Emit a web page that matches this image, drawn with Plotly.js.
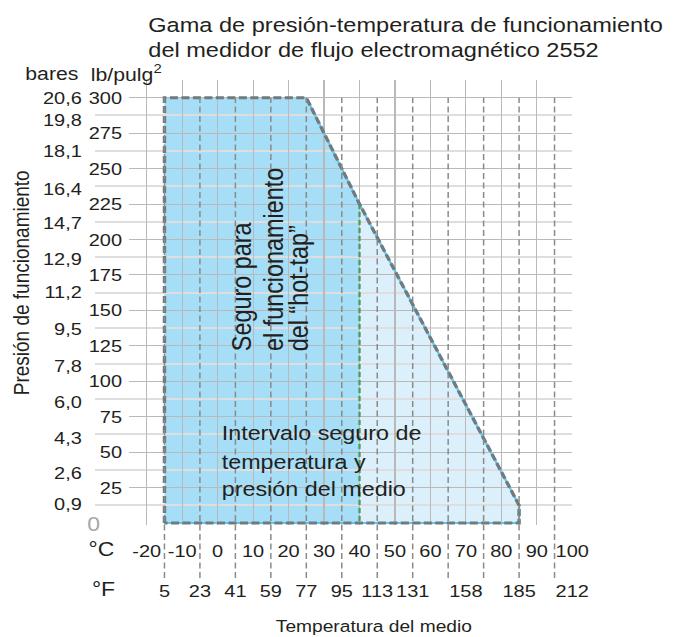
<!DOCTYPE html>
<html><head><meta charset="utf-8">
<script src="https://cdn.plot.ly/plotly-3.0.1.min.js"></script>
<style>
html,body{margin:0;padding:0;background:#fff;overflow:hidden}
#wrap{width:678px;height:637px;overflow:hidden}
#plot{width:590px;height:637px;transform:scaleX(1.149153);transform-origin:0 0}
</style>
</head><body><div id="wrap"><div id="plot"></div></div>
<script>
// ---- data ----
const safeTempC = [-15, -15, 25, 40, 85, 85, -15];
const safePsi   = [0, 300, 300, 225, 12.5, 0, 0];
const hotTapTempC = [-15, -15, 25, 40, 40, -15];
const hotTapPsi   = [0, 300, 300, 225, 0, 0];
const celsiusTicks = [-20, -10, 0, 10, 20, 30, 40, 50, 60, 70, 80, 90, 100];
const celsiusTickText = ['-20', '-10', '0', '10', '20', '30', '40', '50', '60', '70', '80', '90', '100'];
const psiTicks = [25, 50, 75, 100, 125, 150, 175, 200, 225, 250, 275, 300];
const barTickText = ['0,9', '2,6', '4,3', '6,0', '7,8', '9,5', '11,2', '12,9', '14,7', '16,4', '18,1', '19,8', '20,6'];
const barTickPsi = [13.3, 35.4, 60.3, 85.4, 110.5, 136.7, 162.8, 186.2, 211.9, 236.0, 262.5, 284.2, 300];
const barGridPsi = [12.5, 37.5, 62.5, 87.5, 112.5, 137.5, 162.5, 187.5, 212.5, 237.5, 262.5, 287.5];
const fahrenheitTickPosC = [-15, -5, 5, 15, 25, 35, 45, 55, 70, 85, 100];
const fahrenheitTickText = ['5', '23', '41', '59', '77', '95', '113', '131', '158', '185', '212'];
const dashedGuideC = [-15, -5, 5, 15, 25, 35, 45, 55, 65, 75, 85, 95];

// ---- layout geometry ----
const S = 678 / 590;
const W = 590, H = 637, ML = 60, MR = 92, MT = 80, MB = 112;
const plotW = W - ML - MR, plotH = H - MT - MB;
const PXPSI = 443 / 312.5;
const yMin = -2 / PXPSI, yMax = 312.5;
const PX = xr => (xr / S - ML) / plotW;
const PY = yr => (H - MB - yr) / plotH;
const FONT = 'Liberation Sans, Arial, Helvetica, sans-serif';
const INK = '#231f20';

const traces = [
  { x: safeTempC, y: safePsi, xaxis: 'x', yaxis: 'y', type: 'scatter', mode: 'lines',
    fill: 'toself', fillcolor: '#dbf0fb', line: { width: 0 }, hoverinfo: 'skip', showlegend: false },
  { x: hotTapTempC, y: hotTapPsi, xaxis: 'x', yaxis: 'y', type: 'scatter', mode: 'lines',
    fill: 'toself', fillcolor: '#a6def7', line: { width: 0 }, hoverinfo: 'skip', showlegend: false },
  { x: [null], y: [null], xaxis: 'x2', yaxis: 'y2', type: 'scatter', mode: 'lines', showlegend: false, hoverinfo: 'skip' },
  { x: safeTempC.slice(2), y: safePsi.slice(2), xaxis: 'x3', yaxis: 'y3', type: 'scatter', mode: 'lines',
    line: { color: '#5cc6ee', width: 2 }, hoverinfo: 'skip', showlegend: false },
  { x: hotTapTempC.slice(3, 5), y: hotTapPsi.slice(3, 5), xaxis: 'x3', yaxis: 'y3', type: 'scatter', mode: 'lines',
    line: { color: '#4a9a62', width: 2, dash: '5px,3px' }, hoverinfo: 'skip', showlegend: false },
  { x: safeTempC, y: safePsi, xaxis: 'x3', yaxis: 'y3', type: 'scatter', mode: 'lines',
    line: { color: '#707a7f', width: 3, dash: '7px,3px' }, hoverinfo: 'skip', showlegend: false }
];

const tickFont = { family: FONT, size: 17.4, color: INK };
const mainDomain = [PX(129), 1];

const shapes = dashedGuideC.map(c => ({
  type: 'line', xref: 'x', yref: 'paper', x0: c, x1: c, y0: PY(578), y1: PY(97.7),
  line: { color: '#8a8a8a', width: 1.3, dash: '6px,3.5px' }, layer: 'above'
}));

function ann(text, xr, yr, size, opts) {
  return Object.assign({
    text: text, xref: 'paper', yref: 'paper', x: PX(xr), y: PY(yr),
    xanchor: 'left', yanchor: 'middle', showarrow: false,
    font: { family: FONT, size: size, color: INK }
  }, opts || {});
}

const annotations = [
  ann('Gama de presión-temperatura de funcionamiento', 146, 24.3, 20.5),
  ann('del medidor de flujo electromagnético 2552', 146, 49.9, 20.5),
  ann('bares', 23, 73.3, 18.5),
  ann('lb/pulg<sup>2</sup>', 88, 73.3, 18.5),
  ann('0', 93.5, 524, 20, { xanchor: 'center', font: { family: FONT, size: 20, color: '#a6a6a6' } }),
  ann('°C', 101, 548.5, 20, { xanchor: 'center' }),
  ann('°F', 103, 588.5, 20, { xanchor: 'center' }),
  ann('Temperatura del medio', 374, 626, 16.7, { xanchor: 'center' }),
  ann('Presión de funcionamiento', 21, 283, 19.0, { xanchor: 'center', textangle: -90 }),
  ann('Seguro para', 241.5, 353, 23.4, { xanchor: 'center', yanchor: 'bottom', textangle: -90 }),
  ann('el funcionamiento', 273, 353, 23.4, { xanchor: 'center', yanchor: 'bottom', textangle: -90 }),
  ann('del “hot-tap”', 299, 353, 23.4, { xanchor: 'center', yanchor: 'bottom', textangle: -90 }),
  ann('Intervalo seguro de', 220, 433.4, 20.3),
  ann('temperatura y', 220, 461.7, 20.3),
  ann('presión del medio', 220, 489.2, 20.3)
];

const layout = {
  width: W, height: H,
  margin: { l: ML, r: MR, t: MT, b: MB, pad: 0 },
  paper_bgcolor: '#ffffff', plot_bgcolor: 'rgba(0,0,0,0)',
  showlegend: false,
  font: { family: FONT, color: INK },
  xaxis: { domain: mainDomain, range: [-25, 100], anchor: 'y', showgrid: false, zeroline: false, showline: false,
           tickmode: 'array', tickvals: fahrenheitTickPosC, ticktext: fahrenheitTickText, ticks: '',
           tickfont: tickFont, ticklabelstandoff: 54, fixedrange: true },
  yaxis: { domain: [0, 1], range: [yMin, yMax], anchor: 'x', showgrid: false, zeroline: false, showline: false,
           tickmode: 'array', tickvals: barTickPsi, ticktext: barTickText, ticks: '',
           tickfont: tickFont, ticklabelstandoff: 40, fixedrange: true },
  xaxis2: { domain: [PX(95), 1], range: [0, 1], anchor: 'y2', showgrid: false, zeroline: false, showline: false,
            showticklabels: false, ticks: '', fixedrange: true },
  yaxis2: { domain: [0, 1], range: [yMin, yMax], anchor: 'x2', showgrid: true,
            gridcolor: '#dedede', gridwidth: 2, zeroline: false, showline: false, ticks: '',
            tickmode: 'array', tickvals: barGridPsi, showticklabels: false, fixedrange: true },
  xaxis3: { domain: mainDomain, range: [-25, 100], anchor: 'y3', showgrid: true, gridcolor: '#b9b9b9', gridwidth: 1,
            zeroline: false, showline: false, ticks: '', tickmode: 'array', tickvals: celsiusTicks,
            ticktext: celsiusTickText, tickfont: tickFont, ticklabelstandoff: 14, fixedrange: true },
  yaxis3: { domain: [0, 1], range: [yMin, yMax], anchor: 'x3', showgrid: true, gridcolor: '#b9b9b9', gridwidth: 1,
            zeroline: false, showline: false, ticks: '', tickmode: 'array', tickvals: psiTicks,
            tickfont: tickFont, ticklabelstandoff: 5, fixedrange: true },
  shapes: shapes,
  annotations: annotations
};

Plotly.newPlot('plot', traces, layout, { displayModeBar: false, staticPlot: true });
</script>
</body></html>
